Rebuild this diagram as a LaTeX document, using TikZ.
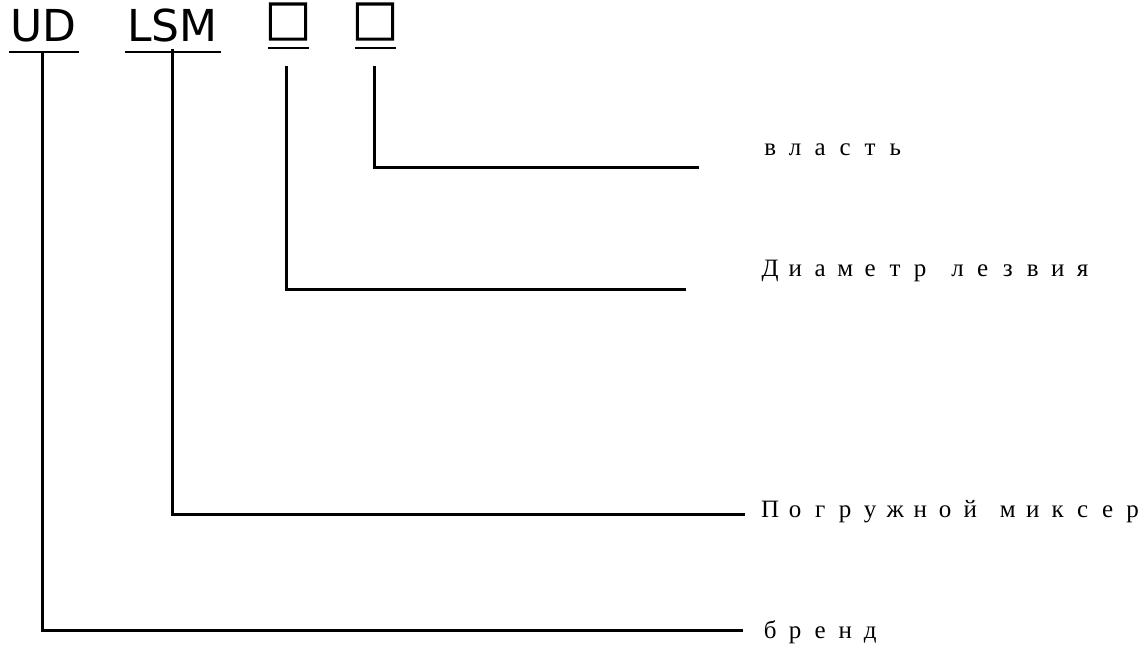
\documentclass[tikz,border=0pt]{standalone}
\usepackage{fontspec}
\setmainfont{Liberation Serif}
\newfontfamily\labelfont{Liberation Serif}
\newfontfamily\codefont{DejaVu Sans}
\newfontfamily\boxfont[FakeBold=3]{Noto Sans CJK SC}
\usetikzlibrary{calc, positioning}

% each letter in a cell one em wide
\newcommand\cellword[1]{\cellloop#1\relax}
\def\cellloop#1{\ifx#1\relax\else\makebox[1em][c]{#1}\expandafter\cellloop\fi}
\newcommand\cellgap{\hspace{0.5em}}

\tikzset{
  code/.style={inner sep=0pt, anchor=base west, font=\codefont\fontsize{44}{50}\selectfont},
  slot/.style={inner sep=0pt, anchor=base, font=\boxfont\fontsize{46}{50}\selectfont},
  label/.style={inner sep=0pt, anchor=base west, font=\labelfont\fontsize{25}{30}\selectfont},
  uline/.style={line width=2pt},
  lead/.style={line width=3pt}
}

\begin{document}
\begin{tikzpicture}[x=1pt, y=-1pt]
\useasboundingbox (0,0) rectangle (1146,645);
% model code
\node[code] (ud) at (10,41.5) {UD};
\node[code] (lsm) at (127,41.5) {LSM};
\node[slot] (boxA) at (288,39) {□};
\node[slot] (boxB) at (375,39) {□};
\draw[uline] (9,52) -- (79,52);
\draw[uline] (125,52) -- (221,52);
\draw[uline] (268,48) -- (309,48);
\draw[uline] (355,48) -- (396,48);
% meanings
\node[label] (power) at (757.5,155) {\cellword{власть}};
\node[label] (diam) at (757.5,276) {\cellword{Диаметр}\cellgap\cellword{лезвия}};
\node[label] (mixer) at (757.5,517) {\cellword{Погружной}\cellgap\cellword{миксер}};
\node[label] (brand) at (757.5,638) {\cellword{бренд}};
% leaders
\coordinate (udfoot) at (42,52);
\coordinate (lsmfoot) at (172,49);
\coordinate (afoot) at (286,66);
\coordinate (bfoot) at (374,66);
\coordinate (powerend) at (699,167);
\coordinate (diamend) at (686,289);
\coordinate (mixerend) at (745,514);
\coordinate (brandend) at (743,630);
\draw[lead] (bfoot) |- (powerend);
\draw[lead] (afoot) |- (diamend);
\draw[lead] (lsmfoot) |- (mixerend);
\draw[lead] (udfoot) |- (brandend);
\end{tikzpicture}
\end{document}
